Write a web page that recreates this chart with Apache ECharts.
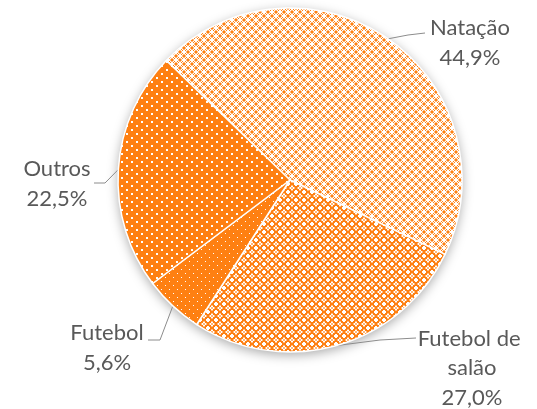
<!DOCTYPE html>
<html>
<head>
<meta charset="utf-8">
<script src="https://cdn.jsdelivr.net/npm/echarts@6/dist/echarts.min.js"></script>
<style>
  html, body { margin: 0; padding: 0; background: #fff; }
  #chart { width: 537px; height: 409px; }
</style>
</head>
<body>
<div id="chart"></div>
<script>
// Modalidades praticadas (%)
const categories = ['Natação', 'Futebol de salão', 'Futebol', 'Outros'];
const shares = [44.9, 27.0, 5.6, 22.5];

const ORANGE = '#FE8012';
const LIGHT = '#FFB879';

// Label placement: text block centre and the leader-line bend/end points
const labelSpots = [
  { x: 470, y: 43,  line: [[408, 35], [425, 33]] },
  { x: 472, y: 368, line: [[380, 340], [416, 338]] },
  { x: 107, y: 348, line: [[160, 340], [148, 340]] },
  { x: 57,  y: 184, line: [[105, 183], [94, 183]] }
];

// Small pixel tiles used as fill patterns: O = orange, L = light orange, . = white
const tiles = [
  [ // light lattice
    'OL....LO',
    'L.O..O.L',
    '.O.LL.O.',
    '..LOOL..',
    '..LOOL..',
    '.O.LL.O.',
    'L.O..O.L',
    'OL....LO'
  ],
  [ // dense lattice
    '..OOOO..',
    '.OOLLOO.',
    'OOO..OOO',
    'OL.LL.LO',
    'OL.LL.LO',
    'OOO..OOO',
    '.OOLLOO.',
    '..OOOO..'
  ],
  [ // sparse dots
    'OOOOOOOO',
    'O.OOOOOO',
    'OOOOOOOO',
    'OOOOOOOO',
    'OOOOOOOO',
    'OOOOO.OO',
    'OOOOOOOO',
    'OOOOOOOO'
  ],
  [ // small squares
    'OOOOOOOOOO',
    'O..OOOOOOO',
    'O..OOOOOOO',
    'OOOOOOOOOO',
    'OOOOOOOOOO',
    'OOOOOO..OO',
    'OOOOOO..OO',
    'OOOOOOOOOO'
  ]
];

function makePattern(rows) {
  const c = document.createElement('canvas');
  c.width = rows[0].length;
  c.height = rows.length;
  const ctx = c.getContext('2d');
  rows.forEach((row, y) => {
    for (let x = 0; x < row.length; x++) {
      const ch = row[x];
      ctx.fillStyle = ch === 'O' ? ORANGE : ch === 'L' ? LIGHT : '#FFFFFF';
      ctx.fillRect(x, y, 1, 1);
    }
  });
  return { image: c, repeat: 'repeat' };
}

const chart = echarts.init(document.getElementById('chart'), null, { renderer: 'canvas' });

const pieCenter = [290, 180];
const pieRadius = 172;

chart.setOption({
  animation: false,
  series: [
    {
      // shadow disc underneath the slices
      type: 'pie',
      silent: true,
      center: pieCenter,
      radius: pieRadius,
      z: 1,
      label: { show: false },
      labelLine: { show: false },
      itemStyle: {
        color: '#ffffff',
        shadowBlur: 12,
        shadowOffsetY: 3,
        shadowColor: 'rgba(0,0,0,0.35)'
      },
      data: [{ value: 1, name: '' }]
    },
    {
      type: 'pie',
      center: pieCenter,
      radius: pieRadius,
      startAngle: 136,
      clockwise: true,
      z: 2,
      avoidLabelOverlap: false,
      itemStyle: { borderColor: '#ffffff', borderWidth: 1.5 },
      label: {
        show: true,
        position: 'outside',
        fontFamily: 'Lato',
        fontSize: 22,
        lineHeight: 29.5,
        color: '#595959',
        align: 'center',
        width: 112,
        overflow: 'break',
        formatter: p => p.name + '\n' + p.value.toFixed(1).replace('.', ',') + '%'
      },
      labelLine: {
        show: true,
        length: 12,
        length2: 30,
        lineStyle: { color: '#8C8C8C', width: 1 }
      },
      labelLayout: params => {
        const spot = labelSpots[params.dataIndex];
        const start = params.labelLinePoints ? params.labelLinePoints[0] : spot.line[0];
        return {
          x: spot.x,
          y: spot.y,
          align: 'center',
          verticalAlign: 'middle',
          labelLinePoints: [start, spot.line[0], spot.line[1]]
        };
      },
      data: categories.map((name, i) => ({
        name,
        value: shares[i],
        itemStyle: { color: makePattern(tiles[i]) }
      }))
    }
  ]
});
</script>
</body>
</html>
